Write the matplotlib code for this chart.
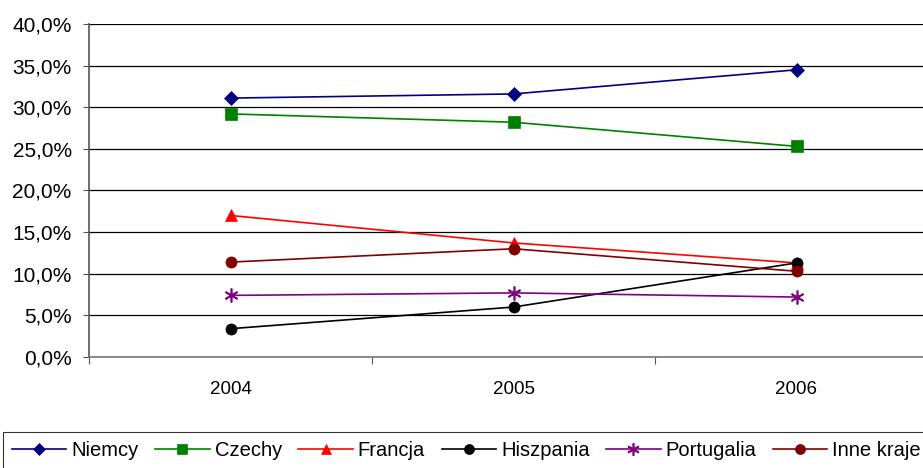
import numpy as np
import matplotlib
matplotlib.use('Agg')
import matplotlib.pyplot as plt
from matplotlib.ticker import FuncFormatter, FixedLocator

plt.rcParams['font.family'] = ['Liberation Sans', 'DejaVu Sans']

years = ['2004', '2005', '2006']

niemcy = [31.1, 31.6, 34.5]
czechy = [29.2, 28.2, 25.3]
francja = [17.0, 13.7, 11.3]
hiszpania = [3.4, 6.0, 11.3]
portugalia = [7.4, 7.7, 7.2]
inne = [11.4, 13.0, 10.3]

series = [
    ('Niemcy', niemcy, '#000080', 'D', 7),
    ('Czechy', czechy, '#008000', 's', 8),
    ('Francja', francja, '#FF0000', '^', 8),
    ('Hiszpania', hiszpania, '#000000', 'o', 8),
    ('Portugalia', portugalia, '#800080', (6, 2, 0), 10),
    ('Inne kraje', inne, '#800000', 'o', 8),
]

fig = plt.figure(figsize=(9.23, 4.68), dpi=100)
ax = fig.add_axes([89 / 923, 111 / 468, 849 / 923, 333 / 468])

x = np.arange(len(years))
for name, vals, col, mk, ms in series:
    ax.plot(x, vals, color=col, lw=1.2, marker=mk, markersize=ms,
            markerfacecolor=col, markeredgecolor=col, label=name,
            markeredgewidth=1.2 if mk == (6, 2, 0) else 0.5, zorder=3)

ax.set_xlim(-0.5, 2.5)
ax.set_ylim(0, 40)
ax.yaxis.set_major_locator(FixedLocator(np.arange(0, 41, 5)))
ax.yaxis.set_major_formatter(FuncFormatter(lambda v, p: f'{v:.1f}%'.replace('.', ',')))
ax.grid(axis='y', color='black', lw=0.9)
ax.set_axisbelow(True)

ax.set_xticks([-0.5, 0.5, 1.5, 2.5])
ax.set_xticklabels([])
ax.set_xticks(x, minor=True)
ax.set_xticklabels(years, minor=True)
ax.tick_params(axis='x', which='minor', length=0, pad=17, labelsize=13.5)
ax.tick_params(axis='x', which='major', length=5, color='#555555', direction='out')
ax.tick_params(axis='y', length=4.5, color='#555555', direction='out', labelsize=15, pad=8)

for side in ['top', 'right']:
    ax.spines[side].set_visible(False)
ax.spines['left'].set_color('#555555')
ax.spines['left'].set_linewidth(1.2)
ax.spines['bottom'].set_color('#777777')
ax.spines['bottom'].set_linewidth(1.2)

leg = fig.legend(loc='upper left', bbox_to_anchor=(3 / 923, 1 - 432 / 468), ncol=6,
                 fontsize=14.5, frameon=True, fancybox=False, edgecolor='black',
                 handlelength=2.7, handletextpad=0.25, columnspacing=0.82,
                 borderpad=0.45, borderaxespad=0, markerscale=0.9)
leg.get_frame().set_linewidth(0.8)

fig.savefig('out.png', dpi=100)
